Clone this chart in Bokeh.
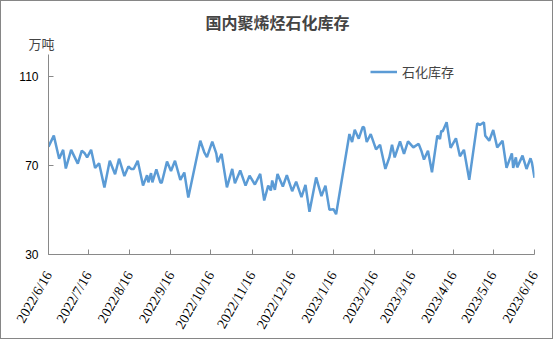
import math
import pandas as pd
from bokeh.plotting import figure
from bokeh.models import Range1d, FixedTicker, Legend, LegendItem, Title
from bokeh.embed import file_html
from bokeh.resources import INLINE

title_text = "国内聚烯烃石化库存"
unit_text = "万吨"
series_name = "石化库存"

dates = ["2022-06-16","2022-06-20","2022-06-24","2022-06-27","2022-06-29",
         "2022-07-03","2022-07-08","2022-07-11","2022-07-13","2022-07-15","2022-07-18","2022-07-21","2022-07-24","2022-07-28",
         "2022-08-01","2022-08-05","2022-08-08","2022-08-12","2022-08-15","2022-08-17","2022-08-19","2022-08-22","2022-08-26","2022-08-29","2022-08-30",
         "2022-09-01","2022-09-02","2022-09-05","2022-09-08","2022-09-09","2022-09-13","2022-09-16","2022-09-19","2022-09-23","2022-09-26","2022-09-29",
         "2022-10-08","2022-10-11","2022-10-13","2022-10-17","2022-10-20","2022-10-21","2022-10-24","2022-10-28",
         "2022-11-01","2022-11-03","2022-11-07","2022-11-11","2022-11-14","2022-11-18","2022-11-22","2022-11-25","2022-11-28","2022-11-30",
         "2022-12-01","2022-12-03","2022-12-05","2022-12-09","2022-12-12","2022-12-16","2022-12-19","2022-12-23","2022-12-26","2022-12-29",
         "2023-01-03","2023-01-07","2023-01-10","2023-01-13","2023-01-16","2023-01-18","2023-01-28","2023-01-30",
         "2023-02-01","2023-02-04","2023-02-07","2023-02-08","2023-02-10","2023-02-13","2023-02-17","2023-02-20","2023-02-24","2023-02-27",
         "2023-03-01","2023-03-03","2023-03-07","2023-03-10","2023-03-13","2023-03-17","2023-03-21","2023-03-23","2023-03-25","2023-03-28","2023-03-31",
         "2023-04-04","2023-04-06","2023-04-07","2023-04-08","2023-04-11","2023-04-14","2023-04-18","2023-04-21","2023-04-24","2023-04-28",
         "2023-05-04","2023-05-06","2023-05-09","2023-05-10","2023-05-13","2023-05-16","2023-05-19","2023-05-23","2023-05-26","2023-05-30","2023-05-31",
         "2023-06-02","2023-06-03","2023-06-07","2023-06-10","2023-06-13","2023-06-14","2023-06-16"]

inventory = [78.5,83.5,73.1,77.1,68.7,
             77.1,70.9,76.7,75.7,73.7,77.1,68.9,71.1,60.2,
             72.2,66.1,73.1,65.3,69.6,68.5,68.5,72.2,61.0,65.7,62.5,
             66.6,62.5,68.3,62.5,62.2,71.8,67.6,72.2,63.6,66.9,55.6,
             81.2,76.0,73.8,80.8,75.5,71.5,75.3,60.2,
             68.5,62.0,67.8,61.0,65.5,61.5,66.3,54.3,61.0,58.8,
             63.3,59.1,66.2,60.6,65.7,58.5,62.8,55.8,61.3,49.2,
             64.7,56.3,61.0,50.1,50.4,48.1,84.2,80.6,
             86.1,82.1,87.4,87.2,80.6,84.2,77.3,79.4,68.5,73.7,
             79.4,73.7,80.9,75.3,80.9,78.2,79.8,76.7,72.7,76.7,67.0,
             83.5,82.0,85.7,85.3,89.5,78.0,82.3,74.2,77.1,63.6,
             89.0,88.3,89.5,83.5,81.2,86.0,78.2,81.2,69.0,75.5,69.0,
             73.7,69.2,74.5,68.5,73.3,71.5,64.5]

tick_dates = ["2022-06-16","2022-07-16","2022-08-16","2022-09-16","2022-10-16","2022-11-16",
              "2022-12-16","2023-01-16","2023-02-16","2023-03-16","2023-04-16","2023-05-16","2023-06-16"]
tick_labels = ["2022/6/16","2022/7/16","2022/8/16","2022/9/16","2022/10/16","2022/11/16",
               "2022/12/16","2023/1/16","2023/2/16","2023/3/16","2023/4/16","2023/5/16","2023/6/16"]
y_ticks = [30, 70, 110]
y_min, y_max = 30, 120

x = pd.to_datetime(dates)
tick_ms = [int(pd.Timestamp(d).value // 10**6) for d in tick_dates]

p = figure(width=553, height=339, output_backend="svg", toolbar_location=None,
           x_axis_type="datetime",
           x_range=Range1d(tick_ms[0], tick_ms[-1]), y_range=Range1d(y_min, y_max),
           min_border_left=47, min_border_right=20, min_border_top=53, min_border_bottom=86)
p.styles = {"border": "1px solid #868686"}
p.outline_line_color = None
p.grid.visible = False
p.background_fill_color = "white"
p.border_fill_color = "white"

r = p.line(x, inventory, line_color="#5B9BD5", line_width=2.5)

axis_color = "#898989"
for ax in (p.xaxis[0], p.yaxis[0]):
    ax.axis_line_color = axis_color
    ax.major_tick_line_color = axis_color
    ax.major_tick_in = 5
    ax.major_tick_out = 0
    ax.minor_tick_line_color = None
    ax.major_label_text_color = "black"

p.yaxis[0].ticker = FixedTicker(ticks=y_ticks)
p.yaxis[0].major_label_text_font = "Liberation Sans"
p.yaxis[0].major_label_text_font_size = "12px"
p.yaxis[0].major_label_standoff = 10

p.xaxis[0].ticker = FixedTicker(ticks=tick_ms)
p.xaxis[0].major_label_overrides = {t: lab for t, lab in zip(tick_ms, tick_labels)}
p.xaxis[0].major_label_orientation = 60 * math.pi / 180
p.xaxis[0].major_label_text_font = "Liberation Serif"
p.xaxis[0].major_label_text_font_size = "14px"
p.xaxis[0].major_label_standoff = 18

unit_title = Title(text=unit_text, align="left", offset=-20, standoff=0, vertical_align="top",
                   text_font="Noto Sans CJK SC", text_font_style="normal", text_font_size="13px")
main_title = Title(text=title_text, align="left", offset=157, standoff=0, vertical_align="bottom",
                   text_font="Noto Sans CJK SC", text_font_style="bold", text_font_size="16px")
p.add_layout(unit_title, "above")
p.add_layout(main_title, "above")

legend = Legend(items=[LegendItem(label=series_name, renderers=[r])], location=(322, 173),
                glyph_width=27, glyph_height=13, label_height=13, label_standoff=5,
                padding=0, margin=0, spacing=0, border_line_alpha=0, background_fill_alpha=0,
                label_text_font="Noto Sans CJK SC", label_text_font_size="13px")
p.add_layout(legend)

open("out.html", "w").write(file_html(p, INLINE))
